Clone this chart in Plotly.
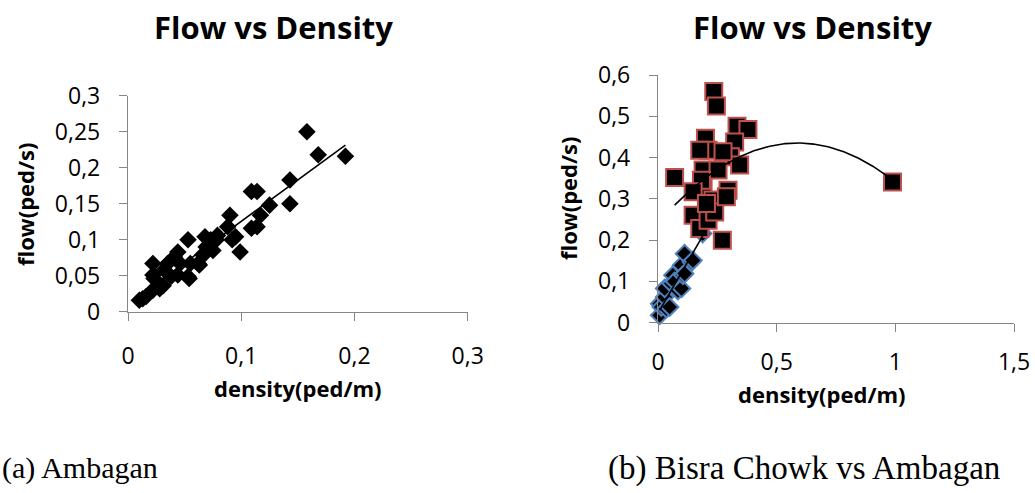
import numpy as np
import plotly.graph_objects as go

W, H = 1035, 493

# ---------------- (a) Ambagan ----------------
amb_a_density = [0.010, 0.013, 0.016, 0.022, 0.023, 0.022, 0.022, 0.028, 0.031, 0.032,
                 0.035, 0.038, 0.041, 0.044, 0.044, 0.046, 0.053, 0.054, 0.053, 0.055,
                 0.062, 0.063, 0.066, 0.068, 0.068, 0.069, 0.073, 0.075, 0.079, 0.078,
                 0.088, 0.090, 0.092, 0.095, 0.099, 0.109, 0.114, 0.109, 0.114, 0.117,
                 0.125, 0.143, 0.143, 0.158, 0.168, 0.192]
amb_a_flow = [0.016, 0.018, 0.021, 0.030, 0.046, 0.051, 0.067, 0.032, 0.036, 0.058,
              0.067, 0.049, 0.076, 0.083, 0.051, 0.067, 0.049, 0.046, 0.100, 0.067,
              0.067, 0.065, 0.079, 0.104, 0.081, 0.090, 0.100, 0.085, 0.106, 0.100,
              0.118, 0.134, 0.100, 0.104, 0.083, 0.167, 0.167, 0.116, 0.118, 0.134,
              0.148, 0.183, 0.150, 0.250, 0.218, 0.216]

# ---------------- (b) Bisra Chowk vs Ambagan ----------------
bisra_density = [0.007, 0.007, 0.014, 0.028, 0.028, 0.035, 0.049, 0.056, 0.063, 0.070,
                 0.084, 0.099, 0.099, 0.105, 0.112, 0.112, 0.141, 0.147, 0.188, 0.200]
bisra_flow = [0.018, 0.046, 0.038, 0.062, 0.083, 0.034, 0.038, 0.095, 0.115, 0.100,
              0.078, 0.083, 0.139, 0.115, 0.167, 0.119, 0.147, 0.151, 0.216, 0.250]

amb_b_density = [0.070, 0.235, 0.246, 0.333, 0.379, 0.200, 0.211, 0.176, 0.323, 0.305,
                 0.344, 0.190, 0.253, 0.190, 0.183, 0.295, 0.232, 0.148, 0.148, 0.176,
                 0.211, 0.239, 0.271, 0.288, 0.204, 0.274, 0.988]
amb_b_flow = [0.352, 0.560, 0.525, 0.476, 0.468, 0.447, 0.418, 0.418, 0.438, 0.402,
              0.382, 0.370, 0.370, 0.325, 0.345, 0.321, 0.297, 0.317, 0.260, 0.228,
              0.248, 0.268, 0.200, 0.305, 0.289, 0.414, 0.341]

# ---------------- ticks ----------------
a_xticks = [0, 0.1, 0.2, 0.3]
a_xtext = ["0", "0,1", "0,2", "0,3"]
a_yticks = [0, 0.05, 0.1, 0.15, 0.2, 0.25, 0.3]
a_ytext = ["0", "0,05", "0,1", "0,15", "0,2", "0,25", "0,3"]
b_xticks = [0, 0.5, 1, 1.5]
b_xtext = ["0", "0,5", "1", "1,5"]
b_yticks = [0, 0.1, 0.2, 0.3, 0.4, 0.5, 0.6]
b_ytext = ["0", "0,1", "0,2", "0,3", "0,4", "0,5", "0,6"]

RED = "#C0504D"
BLUE = "#4F81BD"
AXC = "#868686"
TICKFONT = dict(family="Open Sans", size=23, color="black")


def trend(x, y, deg):
    x = np.asarray(x, float)
    y = np.asarray(y, float)
    c = np.polyfit(x, y, deg)
    xs = np.linspace(x.min(), x.max(), 200)
    return xs, np.polyval(c, xs)


fig = go.Figure()

# left chart
fig.add_trace(go.Scatter(x=amb_a_density, y=amb_a_flow, mode="markers",
                         marker=dict(symbol="diamond", size=13.5, color="black"),
                         cliponaxis=False, xaxis="x", yaxis="y"))
tx, ty = trend(amb_a_density, amb_a_flow, 1)
fig.add_trace(go.Scatter(x=tx, y=ty, mode="lines", line=dict(color="black", width=1.6),
                         xaxis="x", yaxis="y"))

# right chart
fig.add_trace(go.Scatter(x=bisra_density, y=bisra_flow, mode="markers",
                         marker=dict(symbol="diamond", size=13.5, color="black",
                                     line=dict(color=BLUE, width=2)),
                         cliponaxis=False, xaxis="x2", yaxis="y2"))
fig.add_trace(go.Scatter(x=amb_b_density, y=amb_b_flow, mode="markers",
                         marker=dict(symbol="square", size=17, color="black",
                                     line=dict(color=RED, width=2)),
                         cliponaxis=False, xaxis="x2", yaxis="y2"))
bx, by = trend(bisra_density, bisra_flow, 1)
fig.add_trace(go.Scatter(x=bx, y=by, mode="lines", line=dict(color="black", width=1.6),
                         xaxis="x2", yaxis="y2"))
rx, ry = trend(amb_b_density, amb_b_flow, 2)
fig.add_trace(go.Scatter(x=rx, y=ry, mode="lines", line=dict(color="black", width=1.6),
                         xaxis="x2", yaxis="y2"))


def common(domain, rng, vals, text, anchor, standoff):
    return dict(domain=domain, range=rng, anchor=anchor, tickvals=vals, ticktext=text,
                showgrid=False, zeroline=False, showline=True, linecolor=AXC, linewidth=1.3,
                ticks="outside", ticklen=8, tickcolor=AXC, tickwidth=1.3,
                tickfont=TICKFONT, ticklabelstandoff=standoff, automargin=False,
                fixedrange=True)


fig.update_layout(
    width=W, height=H, margin=dict(l=0, r=0, t=0, b=0, autoexpand=False),
    paper_bgcolor="white", plot_bgcolor="white", showlegend=False,
    xaxis=common([128 / W, 467.7 / W], [0, 0.3], a_xticks, a_xtext, "y", 16),
    yaxis=common([1 - 311.7 / H, 1 - 95.7 / H], [0, 0.3], a_yticks, a_ytext, "x", 14),
    xaxis2=common([658 / W, 1014 / W], [0, 1.5], b_xticks, b_xtext, "y2", 11),
    yaxis2=common([1 - 322.7 / H, 1 - 75 / H], [0, 0.6], b_yticks, b_ytext, "x2", 14),
)


def ann(text, px, py, size, family="Open Sans", bold=False, angle=0, xanchor="center"):
    t = f"<b>{text}</b>" if bold else text
    fig.add_annotation(text=t, x=px / W, y=1 - py / H, xref="paper", yref="paper",
                       showarrow=False, xanchor=xanchor, yanchor="middle", textangle=angle,
                       font=dict(family=family, size=size, color="black"))


ann("Flow vs Density", 273, 27, 31, bold=True)
ann("Flow vs Density", 812, 27, 31, bold=True)
ann("flow(ped/s)", 25, 205, 22, bold=True, angle=-90)
ann("flow(ped/s)", 568, 199, 22, bold=True, angle=-90)
ann("density(ped/m)", 298, 388, 22, bold=True)
ann("density(ped/m)", 822, 394, 22, bold=True)
ann("(a) Ambagan", 0, 468, 30, family="Liberation Serif", xanchor="left")
ann("(b) Bisra Chowk vs Ambagan", 606, 468, 33, family="Liberation Serif", xanchor="left")

fig.write_html("out.html", config={"displayModeBar": False},
               post_script="document.body.style.margin='0';document.body.style.overflow='hidden';")
